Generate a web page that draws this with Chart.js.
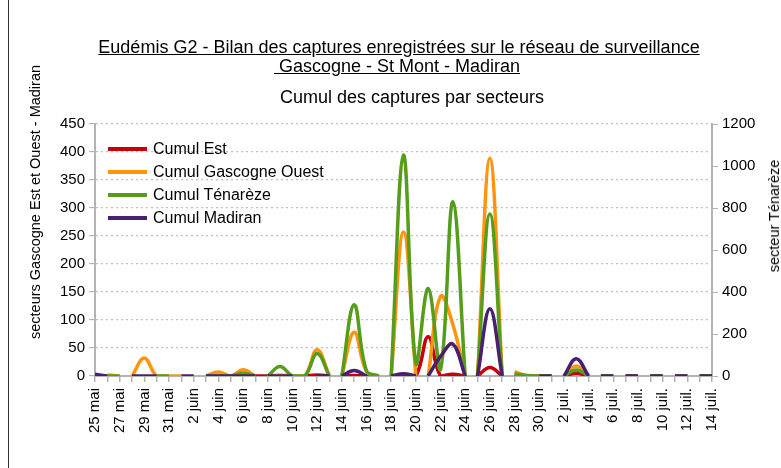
<!DOCTYPE html>
<html lang="fr">
<head>
<meta charset="utf-8">
<title>Eudémis G2 - Cumul des captures par secteurs</title>
<script src="https://cdn.jsdelivr.net/npm/chart.js@4.4.1/dist/chart.umd.min.js"></script>
<style>
  html, body { margin: 0; padding: 0; background: #fff; }
  #wrap { position: relative; width: 781px; height: 468px; overflow: hidden;
          font-family: "Liberation Sans", Arial, sans-serif; color: #000; }
  #wrap canvas { position: absolute; left: 0; top: 0; }
  #frame { position: absolute; left: 8px; top: 0; width: 1px; height: 468px; background: #333; }
  .title { position: absolute; white-space: pre; font-size: 18px; line-height: 20px;
           transform: translateX(-50%); }
  .u { text-decoration: underline; }
  .axis-title { position: absolute; white-space: nowrap; font-size: 14.5px; line-height: 16px;
                transform: translate(-50%, -50%) rotate(-90deg); }
  #legend { position: absolute; left: 108px; top: 137px; font-size: 16px; }
  #legend .row { height: 23px; display: flex; align-items: center; }
  #legend .swatch { display: inline-block; width: 39px; height: 4px; margin-right: 6px; }
</style>
</head>
<body>
<div id="wrap">
  <canvas id="captures" width="781" height="468"></canvas>
  <div id="frame"></div>
  <div class="title u" style="left:399px; top:37px;">Eudémis G2 - Bilan des captures enregistrées sur le réseau de surveillance</div>
  <div class="title u" style="left:397px; top:56px;"> Gascogne - St Mont - Madiran</div>
  <div class="title" style="left:412px; top:87px;">Cumul des captures par secteurs</div>
  <div class="axis-title" style="left:35px; top:202px;">secteurs Gascogne Est et Ouest - Madiran</div>
  <div class="axis-title" style="left:774px; top:216px;">secteur Ténarèze</div>
  <div id="legend"></div>
</div>
<script>
// one entry per day, 25 mai -> 14 juil.
const days = [
  '25 mai', '26 mai', '27 mai', '28 mai', '29 mai', '30 mai', '31 mai',
  '1 juin', '2 juin', '3 juin', '4 juin', '5 juin', '6 juin', '7 juin', '8 juin', '9 juin', '10 juin',
  '11 juin', '12 juin', '13 juin', '14 juin', '15 juin', '16 juin', '17 juin', '18 juin', '19 juin', '20 juin',
  '21 juin', '22 juin', '23 juin', '24 juin', '25 juin', '26 juin', '27 juin', '28 juin', '29 juin', '30 juin',
  '1 juil.', '2 juil.', '3 juil.', '4 juil.', '5 juil.', '6 juil.', '7 juil.', '8 juil.', '9 juil.', '10 juil.',
  '11 juil.', '12 juil.', '13 juil.', '14 juil.'
];

// left axis (Est, Gascogne Ouest, Madiran)
const cumulEst = [
  null, null, null, null, null, null, null, null, null, null, null, null, null, 0, 0, null, null,
  0, 2, 0, 0, 1, 0, 0, 0, 0, 0, 70, 0, 3, 0, 0, 15, 0, 2, 0, 0,
  0, 0, 5, 0, 0, 0, 0, 0, 0, 0, 0, 0, 0, 0
];
const cumulGascogneOuest = [
  null, 2, 0, 0, 32, 0, 0, 0, null, 0, 7, 0, 11, 0, 0, 2, 0,
  0, 47, 0, 0, 78, 8, 0, 0, 257, 0, 0, 142, 92, 0, 0, 389, 0, 8, 0, 0,
  0, 0, 18, 0, 0, 0, 0, 0, 0, 0, 0, 0, 0, 0
];
const cumulMadiran = [
  3, 0, null, 0, 0, 0, null, 0, 0, 0, 0, 0, 0, 0, 0, 0, 0,
  null, 0, 0, 0, 10, 0, null, 0, 4, 0, 0, 35, 57, 0, 0, 120, 0, null, null, 0,
  0, 0, 31, 0, 0, 0, 0, 0, 0, 0, 0, 0, 0, 0
];
// right axis (Ténarèze)
const cumulTenareze = [
  null, 0, 0, null, null, 0, 0, null, null, 0, 0, 0, 13, 0, 0, 45, 0,
  0, 107, 0, 0, 339, 25, 0, 0, 1052, 60, 417, 30, 830, 0, 0, 771, 0, 10, 2, 0,
  0, 0, 29, 0, 0, 0, 0, 0, 0, 0, 0, 0, 0, 0
];

// day indexes after which the curve is interrupted
const breaksAll = [19, 23, 30, 33, 37, 40, 42, 44, 46, 48];
const breaksEst = [];
const breaksGascogneOuest = [2, 13, 26];
const breaksTenareze = [13];
const breaksMadiran = [8, 13, 26];

const leftTicks = [0, 50, 100, 150, 200, 250, 300, 350, 400, 450];
const rightTicks = [0, 200, 400, 600, 800, 1000, 1200];

function toPoints(values, breaks) {
  const pts = [];
  values.forEach((v, i) => {
    pts.push({ x: i, y: v });
    if (breaksAll.includes(i) || breaks.includes(i)) pts.push({ x: i + 0.5, y: null });
  });
  return pts;
}

// order: Madiran drawn on top, Est underneath
const series = [
  { label: 'Cumul Est', values: cumulEst, breaks: breaksEst, color: '#c5000b', axis: 'y', order: 4 },
  { label: 'Cumul Gascogne Ouest', values: cumulGascogneOuest, breaks: breaksGascogneOuest, color: '#ff950e', axis: 'y', order: 3 },
  { label: 'Cumul Ténarèze', values: cumulTenareze, breaks: breaksTenareze, color: '#579d1c', axis: 'y1', order: 2 },
  { label: 'Cumul Madiran', values: cumulMadiran, breaks: breaksMadiran, color: '#4b1f6f', axis: 'y', order: 1 }
];

const FONT = "'Liberation Sans', Arial, sans-serif";
const AXIS_GREY = '#b3b3b3';

new Chart(document.getElementById('captures'), {
  type: 'line',
  data: {
    datasets: series.map(s => ({
      label: s.label,
      data: toPoints(s.values, s.breaks),
      borderColor: s.color,
      backgroundColor: s.color,
      borderWidth: 3.5,
      pointRadius: 0,
      tension: 0.4,
      fill: false,
      spanGaps: false,
      yAxisID: s.axis,
      order: s.order
    }))
  },
  options: {
    responsive: false,
    animation: false,
    events: [],
    layout: { padding: { top: 124, left: 0, right: 0, bottom: 0 } },
    plugins: {
      legend: { display: false },
      title: { display: false },
      tooltip: { enabled: false }
    },
    scales: {
      x: {
        type: 'linear',
        min: 0,
        max: days.length - 1,
        afterFit: s => { s.height = 92; },
        afterBuildTicks: s => { s.ticks = days.map((d, i) => ({ value: i })); },
        ticks: {
          autoSkip: false,
          maxRotation: 90,
          minRotation: 90,
          padding: 6,
          color: '#000',
          font: { family: FONT, size: 15 },
          callback: v => (v % 2 === 0 ? days[v] : '')
        },
        grid: { display: true, drawOnChartArea: false, drawTicks: true, tickLength: 6, color: AXIS_GREY, lineWidth: 1.5 },
        border: { display: true, color: AXIS_GREY, width: 2 }
      },
      y: {
        position: 'left',
        min: 0,
        max: 450,
        afterFit: s => { s.width = 95; },
        afterBuildTicks: s => { s.ticks = leftTicks.map(v => ({ value: v })); },
        ticks: { padding: 4, color: '#000', font: { family: FONT, size: 15 }, callback: v => String(v) },
        grid: { color: '#c0c0c0', lineWidth: 1.2, tickLength: 6, tickColor: AXIS_GREY },
        border: { display: true, color: AXIS_GREY, width: 2, dash: [2, 3] }
      },
      y1: {
        position: 'right',
        min: 0,
        max: 1200,
        afterFit: s => { s.width = 69; },
        afterBuildTicks: s => { s.ticks = rightTicks.map(v => ({ value: v })); },
        ticks: { padding: 4, color: '#000', font: { family: FONT, size: 15 }, callback: v => String(v) },
        grid: { drawOnChartArea: false, tickLength: 6, color: AXIS_GREY },
        border: { display: true, color: AXIS_GREY, width: 2 }
      }
    }
  }
});

// legend inside the plot, top left
const legend = document.getElementById('legend');
series.forEach(s => {
  const row = document.createElement('div');
  row.className = 'row';
  row.innerHTML = '<span class="swatch" style="background:' + s.color + '"></span>' + s.label;
  legend.appendChild(row);
});
</script>
</body>
</html>
